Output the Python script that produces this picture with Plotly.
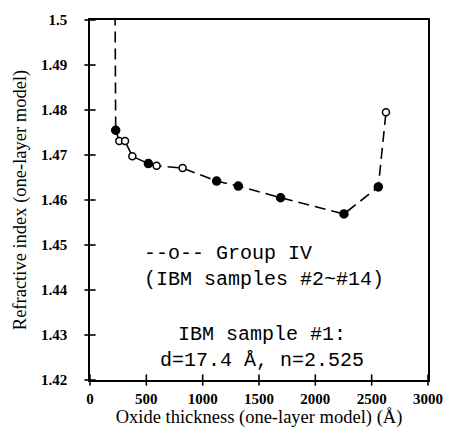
import plotly.graph_objects as go

# Data (oxide thickness in Å, refractive index)
thickness = [17.4, 228, 260, 311, 376, 518, 591, 822, 1124, 1316, 1692, 2254, 2559, 2627]
index_n = [2.525, 1.4755, 1.4731, 1.4731, 1.4697, 1.4681, 1.4676, 1.4671, 1.4642, 1.4631, 1.4605, 1.4569, 1.4629, 1.4795]
filled = [True, True, False, False, False, True, False, False, True, True, True, True, True, False]

x_ticks = [0, 500, 1000, 1500, 2000, 2500, 3000]
y_ticks = [1.42, 1.43, 1.44, 1.45, 1.46, 1.47, 1.48, 1.49, 1.5]
y_tick_text = ["1.42", "1.43", "1.44", "1.45", "1.46", "1.47", "1.48", "1.49", "1.5"]
x_min, x_max = x_ticks[0], x_ticks[-1]
y_min, y_max = y_ticks[0], y_ticks[-1]

fig = go.Figure()
fig.add_trace(go.Scatter(
    x=thickness, y=index_n, mode="lines+markers",
    line=dict(color="black", width=1.6, dash="11px,6px"),
    marker=dict(
        symbol="circle",
        size=[8 if f else 7 for f in filled],
        color=["#000000" if f else "#ffffff" for f in filled],
        opacity=1,
        line=dict(color="#000000", width=1.5),
    ),
    showlegend=False, hoverinfo="skip",
))
# crossing tick marks drawn as line markers on the axes
fig.add_trace(go.Scatter(
    x=[x_min] * len(y_ticks), y=y_ticks, mode="markers", cliponaxis=False,
    marker=dict(symbol="line-ew-open", size=8, color="#000000", line=dict(color="#000000", width=1.6)),
    showlegend=False, hoverinfo="skip",
))
fig.add_trace(go.Scatter(
    x=x_ticks, y=[y_min] * len(x_ticks), mode="markers", cliponaxis=False,
    marker=dict(symbol="line-ns-open", size=8, color="#000000", line=dict(color="#000000", width=1.6)),
    showlegend=False, hoverinfo="skip",
))

tickfont = dict(family="Liberation Serif", size=15, color="black", weight="bold")
common = dict(ticks="", showgrid=False, zeroline=False, showline=True, linecolor="#000000",
              linewidth=1.5, mirror=True, tickfont=tickfont)
fig.update_layout(
    width=455, height=438,
    margin=dict(l=90, r=27, t=16, b=58),
    paper_bgcolor="white", plot_bgcolor="white",
    xaxis=dict(range=[x_min, x_max], tickvals=x_ticks, ticklabelstandoff=4,
               title=dict(text="Oxide thickness (one-layer model) (Å)", standoff=2,
                          font=dict(family="Liberation Serif", size=18.5, color="black")),
               **common),
    yaxis=dict(range=[y_min, y_max], tickvals=y_ticks, ticktext=y_tick_text, ticklabelstandoff=18,
               title=dict(text="Refractive index (one-layer model)", standoff=10,
                          font=dict(family="Liberation Serif", size=18.5, color="black")),
               **common),
)

mono = dict(family="Liberation Mono", size=20, color="black")
fig.add_annotation(x=0.155, y=1.4453, xref="paper", yref="y", xanchor="left", yanchor="middle",
                   text="--o-- Group IV<br>(IBM samples #2~#14)", align="left", showarrow=False,
                   font=mono)
fig.add_annotation(x=0.51, y=1.4273, xref="paper", yref="y", xanchor="center", yanchor="middle",
                   text="IBM sample #1:<br>d=17.4 Å, n=2.525", align="center", showarrow=False,
                   font=mono)

fig.write_html("out.html")
